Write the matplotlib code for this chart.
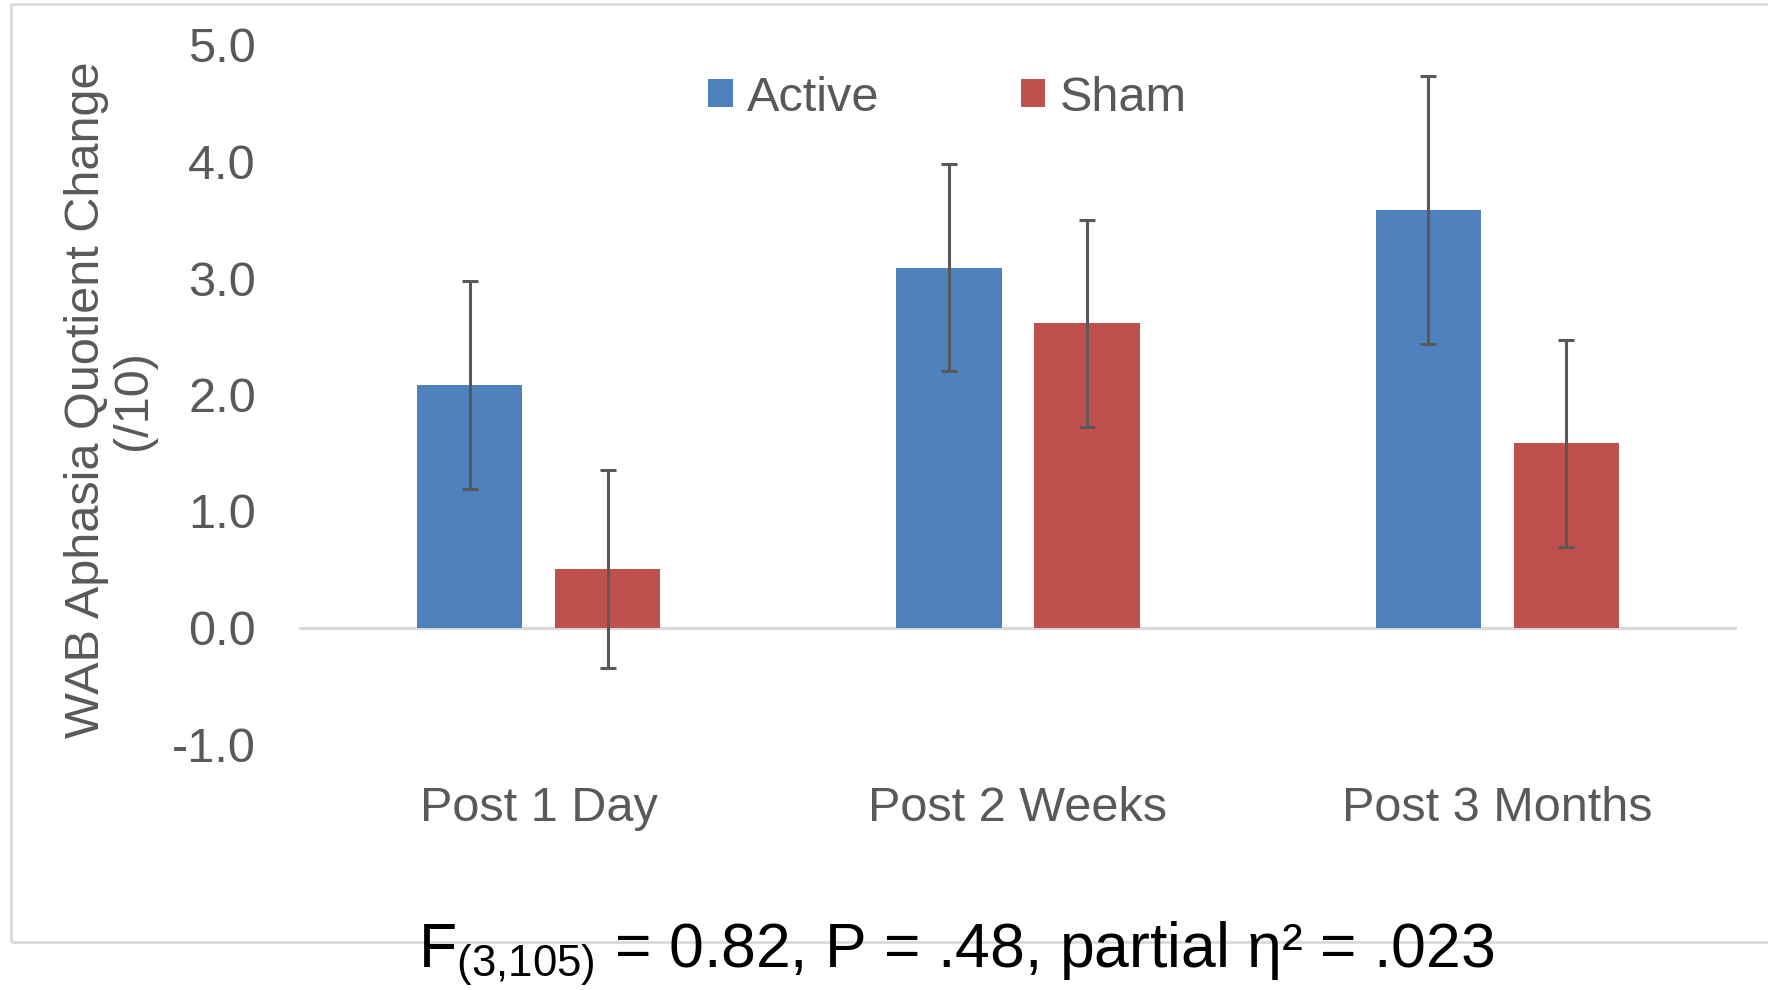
import matplotlib
matplotlib.use("Agg")
import matplotlib.pyplot as plt
from matplotlib.patches import Rectangle
import numpy as np

plt.rcParams['font.family'] = ['Liberation Sans', 'DejaVu Sans']
plt.rcParams['mathtext.fontset'] = 'custom'
plt.rcParams['mathtext.rm'] = 'Liberation Sans'
plt.rcParams['mathtext.it'] = 'Liberation Sans'

# data
categories = ["Post 1 Day", "Post 2 Weeks", "Post 3 Months"]
active = [2.08, 3.09, 3.58]
active_err = [0.89, 0.89, 1.15]
sham = [0.50, 2.61, 1.58]
sham_err = [0.85, 0.89, 0.89]
yticks = [-1.0, 0.0, 1.0, 2.0, 3.0, 4.0, 5.0]

BLUE = "#4F81BD"
RED = "#C0504D"
GREY = "#595959"
LINE = "#D9D9D9"

fig = plt.figure(figsize=(17.68, 9.9), dpi=100)
ax = fig.add_axes([299/1768, 1-744/990, (1737-299)/1768, (744-45)/990])

# outer chart border like the Excel chart area
fig.patches.append(Rectangle((11/1768, 1-942/990), 1.2, (942-4)/990,
                             transform=fig.transFigure, fill=False,
                             edgecolor=LINE, lw=2, zorder=0))

x = np.arange(len(categories))
w = 0.22
off = 0.144
err_kw = dict(ecolor=GREY, elinewidth=2.2, capsize=5.5, capthick=2.2)

ax.bar(x - off, active, w, color=BLUE, label="Active", zorder=3,
       yerr=active_err, error_kw=err_kw)
ax.bar(x + off, sham, w, color=RED, label="Sham", zorder=3,
       yerr=sham_err, error_kw=err_kw)
ax.axhline(0, color=LINE, lw=2.2, zorder=2)

ax.set_xlim(-0.5, 2.5)
ax.set_ylim(-1, 5)
ax.set_yticks(yticks)
ax.set_yticklabels([f"{v:.1f}" for v in yticks])
ax.set_xticks(x)
ax.set_xticklabels(categories)
ax.tick_params(axis='both', length=0, labelsize=35, colors=GREY)
ax.tick_params(axis='y', pad=31)
ax.tick_params(axis='x', pad=30)
for s in ax.spines.values():
    s.set_visible(False)

fig.text(110/1768, 1-400/990, "WAB Aphasia Quotient Change\n(/10)",
         rotation=90, ha='center', va='center', multialignment='center',
         fontsize=35, color=GREY, linespacing=1.05)

fig.legend(loc='center', bbox_to_anchor=(0.536, 0.901), ncol=2,
           frameon=False, fontsize=35, labelcolor=GREY,
           handlelength=0.5, handleheight=0.5, handletextpad=0.3,
           columnspacing=2.9)

fig.text(0.541, 1-967/990,
         r"F$_{(3{,}105)}$ = 0.82, P = .48, partial η² = .023",
         ha='center', va='baseline', fontsize=45, color='black')

fig.savefig("out.png", dpi=100)
